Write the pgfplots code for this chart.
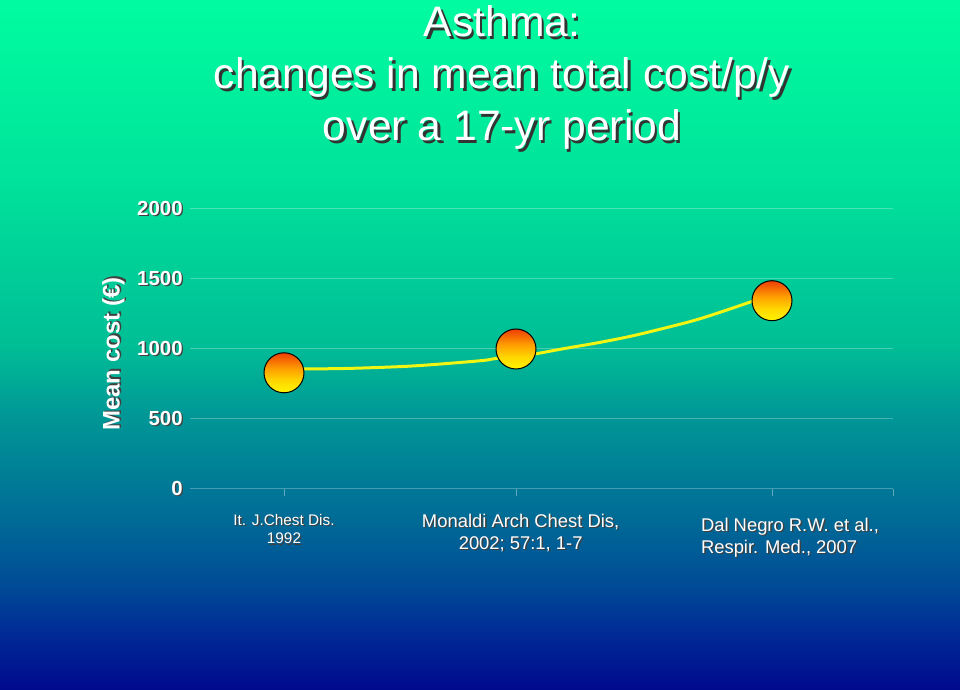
\documentclass[border=0pt]{standalone}
\usepackage{pgfplots}
\pgfplotsset{compat=1.18}
\usepackage{fontspec}
\setmainfont{Liberation Sans}
\definecolor{c0}{RGB}{0,10,140}
\definecolor{c1}{RGB}{0,42,150}
\definecolor{c2}{RGB}{0,75,150}
\definecolor{c3}{RGB}{0,108,150}
\definecolor{c4}{RGB}{0,152,150}
\definecolor{c5}{RGB}{0,190,150}
\definecolor{c6}{RGB}{0,228,155}
\definecolor{c7}{RGB}{0,252,160}
\definecolor{by}{RGB}{255,245,0}
\definecolor{bm}{RGB}{255,215,0}
\definecolor{bo}{RGB}{255,160,0}
\definecolor{br}{RGB}{238,62,5}
\definecolor{linecol}{RGB}{240,245,20}
\pgfdeclareverticalshading{bgshade}{100bp}{color(0bp)=(c0); color(25bp)=(c0); color(29bp)=(c1); color(32.5bp)=(c2); color(37.5bp)=(c3); color(45bp)=(c4); color(50bp)=(c5); color(62.5bp)=(c6); color(75bp)=(c7); color(100bp)=(c7)}
\pgfdeclareverticalshading{ballshade}{100bp}{color(0bp)=(by); color(25bp)=(by); color(40bp)=(bm); color(55bp)=(bo); color(75bp)=(br); color(100bp)=(br)}
\pgfdeclareplotmark{gball}{%
  \pgfpathcircle{\pgfpointorigin}{\pgfplotmarksize}%
  \pgfshadepath{ballshade}{0}%
  \pgfusepath{stroke}}
\newcommand{\shad}[1]{\rlap{\kern1.1pt\raisebox{-1.1pt}{\color{black!75}#1}}#1}
\newcommand{\shadT}[1]{\rlap{\kern1.8pt\raisebox{-1.8pt}{\color{black!80}#1}}#1}
\begin{document}
\begin{tikzpicture}
\useasboundingbox (0,0) rectangle (720pt,516.75pt);
\shade[shading=bgshade] (0,0) rectangle (720pt,516.75pt);
\node[anchor=base, inner sep=0pt, text=white, font=\fontsize{32}{38}\selectfont] at (376.5pt,489pt) {\shadT{Asthma:}};
\node[anchor=base, inner sep=0pt, text=white, font=\fontsize{32}{38}\selectfont] at (376.5pt,450pt) {\shadT{changes in mean total cost/p/y}};
\node[anchor=base, inner sep=0pt, text=white, font=\fontsize{32}{38}\selectfont] at (376.5pt,411pt) {\shadT{over a 17-yr period}};
\begin{axis}[
  at={(142.5pt,150pt)}, anchor=south west,
  scale only axis, width=527.25pt, height=210pt,
  xmin=0, xmax=703, ymin=0, ymax=2000,
  axis line style={draw=none},
  clip=false,
  ytick={0,500,1000,1500,2000},
  yticklabels={\shad{0},\shad{500},\shad{1000},\shad{1500},\shad{2000}},
  yticklabel style={font=\fontsize{15.3}{18}\bfseries\selectfont, text=white, xshift=3pt},
  ytick style={draw=none},
  ymajorgrids,
  grid style={white, opacity=0.27, line width=0.75pt},
  xtick pos=bottom,
  xtick={94,326,582},
  xticklabels={
    {\fontsize{11.5}{14}\selectfont\begin{tabular}{@{}c@{}}\shad{It. J.Chest Dis.}\\\shad{1992}\end{tabular}},
    {\hspace*{7pt}\fontsize{13.8}{16.5}\selectfont\begin{tabular}{@{}c@{}}\shad{Monaldi Arch Chest Dis,}\\\shad{2002; 57:1, 1-7}\end{tabular}},
    {\hspace*{27pt}\fontsize{13.8}{16.5}\selectfont\raisebox{-3pt}[\height][\depth]{\begin{tabular}{@{}l@{}}\shad{Dal Negro R.W. et al.,}\\\shad{Respir. Med., 2007}\end{tabular}}}
  },
  extra x ticks={703},
  extra x tick labels={},
  extra x tick style={grid=none},
  xtick style={draw=white, opacity=0.35, line width=0.75pt},
  tick align=outside, major tick length=5pt,
  xticklabel style={text=white, anchor=north, inner sep=0pt, yshift=-12pt},
  ylabel={\shad{Mean cost (€)}},
  ylabel style={at={(axis description cs:-0.108,0.482)}, anchor=center, rotate=0, font=\fontsize{18}{22}\bfseries\selectfont, text=white},
]
\addplot[only marks, mark=gball, mark size=15pt, mark options={draw=black, line width=0.75pt}]
  coordinates {(94,830) (326,1000) (582,1345)};
\addplot[no marks, draw=linecol, line width=2.25pt, smooth]
  coordinates {(98.3,857) (156.7,861) (223.3,879) (290,916) (306.7,933) (340,959) (373.3,1002) (406.7,1043) (440,1090) (473.3,1147) (506.7,1209) (540,1286) (576.7,1376)};
\end{axis}
\end{tikzpicture}
\end{document}
